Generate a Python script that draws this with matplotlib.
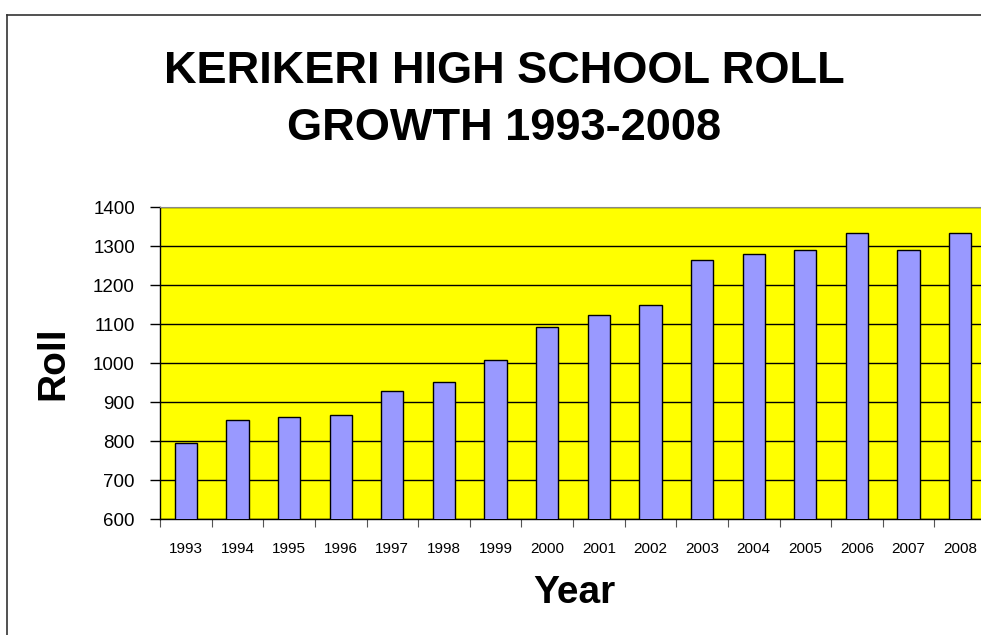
import numpy as np
import matplotlib.pyplot as plt
from matplotlib.lines import Line2D

years = ['1993', '1994', '1995', '1996', '1997', '1998', '1999', '2000',
         '2001', '2002', '2003', '2004', '2005', '2006', '2007', '2008']
roll = [795, 855, 862, 868, 930, 953, 1009, 1092,
        1125, 1150, 1266, 1280, 1290, 1334, 1290, 1334]

W, H = 981, 635
plt.rcParams['font.family'] = ['Liberation Sans', 'DejaVu Sans']

fig = plt.figure(figsize=(W / 100, H / 100), dpi=100)
ax = fig.add_axes([160 / W, 1 - 519.3 / H, 826 / W, 312 / H])

x = np.arange(len(years))
ax.set_facecolor('#ffff00')
ax.set_axisbelow(True)
ax.yaxis.grid(True, color='black', linewidth=1)
ax.bar(x, roll, width=0.43, color='#9999ff', edgecolor='black', linewidth=1, zorder=3)

ax.set_ylim(600, 1400)
ax.set_yticks(range(600, 1401, 100))
ax.set_xlim(-0.5, len(years) - 0.5)

# category boundary ticks, labels in the middle
ax.set_xticks(np.arange(len(years) + 1) - 0.5)
ax.set_xticklabels([])
ax.set_xticks(x, minor=True)
ax.set_xticklabels(years, minor=True, fontsize=11)
ax.tick_params(axis='x', which='major', length=6, color='#555555', direction='out')
ax.tick_params(axis='x', which='minor', length=0, pad=16)
ax.tick_params(axis='y', length=7, width=1, labelsize=13.5, pad=11)

for s in ['top', 'right']:
    ax.spines[s].set_color('#888888')
for s in ['left', 'bottom']:
    ax.spines[s].set_color('black')
    ax.spines[s].set_linewidth(1)

ax.set_ylabel('Roll', fontsize=28, fontweight='bold', va='center')
ax.yaxis.set_label_coords((53 - 160) / 826, (519.3 - 363) / 312)
ax.set_xlabel('Year', fontsize=28, fontweight='bold', va='center')
ax.xaxis.set_label_coords((574 - 160) / 826, -(593 - 519.3) / 312)

fig.text(504 / W, 1 - 83 / H, 'KERIKERI HIGH SCHOOL ROLL', ha='center', va='baseline',
         fontsize=32.5, fontweight='bold')
fig.text(504 / W, 1 - 140 / H, 'GROWTH 1993-2008', ha='center', va='baseline',
         fontsize=32.5, fontweight='bold')

# outer chart frame (cut off at right and bottom)
fig.add_artist(Line2D([7 / W, 7 / W], [0, 1 - 15 / H], color='#333333', linewidth=1.2))
fig.add_artist(Line2D([7 / W, 1], [1 - 15 / H, 1 - 15 / H], color='#333333', linewidth=1.2))

fig.savefig('out.png', dpi=100)
